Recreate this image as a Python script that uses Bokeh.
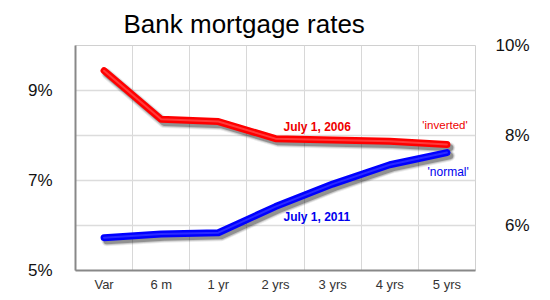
from bokeh.plotting import figure
from bokeh.models import (ColumnDataSource, FactorRange, Range1d, FixedTicker,
                          Label, LinearAxis, Title)
from bokeh.transform import dodge
from bokeh.embed import file_html
from bokeh.resources import INLINE

terms = ["Var", "6 m", "1 yr", "2 yrs", "3 yrs", "4 yrs", "5 yrs"]
rates_2006 = [9.44, 8.36, 8.31, 7.93, 7.90, 7.87, 7.80]
rates_2011 = [5.73, 5.81, 5.84, 6.42, 6.92, 7.35, 7.62]
left_ticks = [5, 7, 9]
right_ticks = [6, 8, 10]
left_labels = {5: "5%", 7: "7%", 9: "9%"}
right_labels = {6: "6%", 8: "8%", 10: "10%"}

FONT = "Liberation Sans"

# right-align the right-hand labels by padding narrower ones with no-break spaces
_w = max(len(s) for s in right_labels.values())
right_padded = {k: "\u00a0\u00a0" * (_w - len(s)) + s for k, s in right_labels.items()}

p = figure(width=550, height=300, x_range=FactorRange(*terms, range_padding=0),
           y_range=Range1d(5, 10), output_backend="svg", toolbar_location=None,
           min_border_left=75, min_border_right=75, min_border_top=45,
           min_border_bottom=30)
p.background_fill_color = "white"
p.border_fill_color = "white"
p.outline_line_color = "#d0d0d0"
p.outline_line_width = 1

# grids
p.xgrid.ticker = FixedTicker(ticks=[1, 2, 3, 4, 5, 6])
p.xgrid.grid_line_color = "#d8d8d8"
p.xgrid.grid_line_width = 1
p.ygrid.ticker = FixedTicker(ticks=[6, 7, 8, 9, 10])
p.ygrid.grid_line_color = "#dcdcdc"
p.ygrid.grid_line_width = 1.5

# axes
p.yaxis.ticker = FixedTicker(ticks=left_ticks)
p.yaxis.major_label_overrides = left_labels
p.yaxis.major_label_text_font = FONT
p.yaxis.major_label_text_font_size = "17px"
p.yaxis.major_label_text_color = "#111111"
p.yaxis.major_label_standoff = 23
p.yaxis.major_tick_out = 0
p.yaxis.major_tick_line_color = None
p.yaxis.minor_tick_line_color = None
p.yaxis.axis_line_color = "#888888"
p.yaxis.axis_line_width = 2

ry = LinearAxis(ticker=FixedTicker(ticks=right_ticks),
                major_label_overrides=right_padded,
                major_label_text_font=FONT, major_label_text_font_size="17px",
                major_label_text_color="#111111", major_label_standoff=20,
                major_tick_out=0, minor_tick_out=0,
                major_tick_line_color=None, minor_tick_line_color=None,
                axis_line_color=None)
p.add_layout(ry, "right")

p.xaxis.major_label_text_font = FONT
p.xaxis.major_label_text_font_size = "13px"
p.xaxis.major_label_text_color = "#333333"
p.xaxis.major_label_standoff = 6
p.xaxis.major_tick_out = 0
p.xaxis.major_tick_line_color = None
p.xaxis.axis_line_color = "#888888"
p.xaxis.axis_line_width = 2

src = ColumnDataSource(dict(x=terms, r06=rates_2006, r11=rates_2011))

# shadows
for w, a in [(11, 0.08), (9, 0.14), (7, 0.28)]:
    for col in ["r06", "r11"]:
        p.line(x=dodge("x", 0.05, range=p.x_range), y=dodge(col, -0.07), source=src,
               line_color="black", line_alpha=a, line_width=w,
               line_cap="round", line_join="round")

p.line(x="x", y="r06", source=src, line_color="#ff0000", line_width=7,
       line_cap="round", line_join="round")
p.line(x="x", y="r06", source=src, line_color="#ff3a3a", line_width=2,
       line_cap="round", line_join="round")
p.line(x="x", y="r11", source=src, line_color="#0000ff", line_width=7,
       line_cap="round", line_join="round")
p.line(x="x", y="r11", source=src, line_color="#2a2aff", line_width=2,
       line_cap="round", line_join="round")

# inline texts
p.add_layout(Label(x=3.64, y=8.2, text="July 1, 2006", text_font=FONT,
                   text_font_size="12px", text_font_style="bold",
                   text_color="#ee0000", text_baseline="middle"))
p.add_layout(Label(x=3.64, y=6.18, text="July 1, 2011", text_font=FONT,
                   text_font_size="12px", text_font_style="bold",
                   text_color="#0000ee", text_baseline="middle"))
p.add_layout(Label(x=6.07, y=8.24, text="'inverted'", text_font=FONT,
                   text_font_size="11.5px", text_color="#ee0000",
                   text_baseline="middle"))
p.add_layout(Label(x=6.16, y=7.18, text="'normal'", text_font=FONT,
                   text_font_size="12px", text_color="#0000ee",
                   text_baseline="middle"))

# title
p.add_layout(Title(text="Bank mortgage rates", text_font=FONT,
                   text_font_size="26px", text_font_style="normal",
                   text_color="#000000", align="left", offset=48,
                   standoff=13), "above")

open("out.html", "w").write(file_html(p, INLINE))
